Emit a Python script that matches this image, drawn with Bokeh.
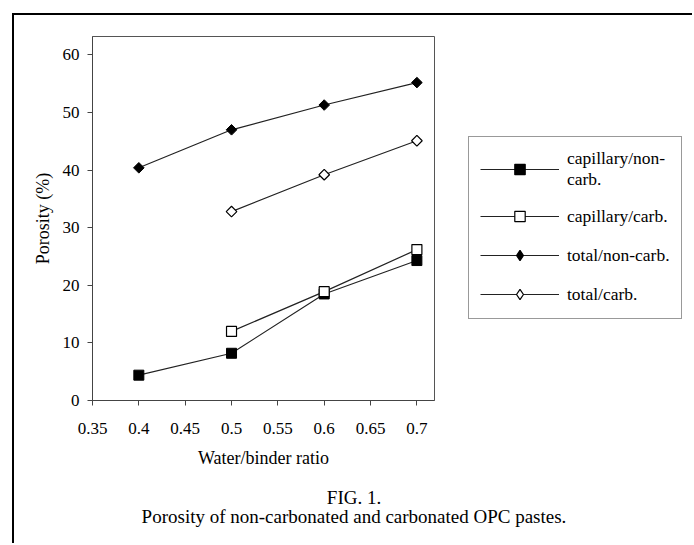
import math

from bokeh.embed import file_html
from bokeh.layouts import column, row
from bokeh.models import (CustomJSTickFormatter, Div, FixedTicker, Legend, LegendItem,
                          Range1d)
from bokeh.plotting import figure
from bokeh.resources import INLINE

# Water/binder ratios of the pastes
wb_noncarb = [0.4, 0.5, 0.6, 0.7]
wb_carb = [0.5, 0.6, 0.7]

# Porosity (%)
capillary_noncarb = [4.4, 8.2, 18.5, 24.3]
capillary_carb = [12.0, 18.9, 26.2]
total_noncarb = [40.4, 47.0, 51.3, 55.2]
total_carb = [32.8, 39.2, 45.1]

x_ticks = [0.35, 0.4, 0.45, 0.5, 0.55, 0.6, 0.65, 0.7]
y_ticks = [0, 10, 20, 30, 40, 50, 60]

series_labels = ["capillary/non-\ncarb.", "capillary/carb.", "total/non-carb.", "total/carb."]
fig_title = "FIG. 1."
fig_caption = "Porosity of non-carbonated and carbonated OPC pastes."

SERIF = "Liberation Serif"
INK = "#222222"

# ---------------- chart ----------------
p = figure(
    width=426, height=470,
    x_range=Range1d(0.35, 0.719), y_range=Range1d(0, 63.2),
    min_border_left=78, min_border_right=6, min_border_top=21, min_border_bottom=85,
    output_backend="svg", toolbar_location=None,
    background_fill_color="white", border_fill_color="white",
)
p.grid.visible = False
p.outline_line_color = "#555555"
p.outline_line_width = 1

for ax in (p.xaxis[0], p.yaxis[0]):
    ax.axis_line_color = "#444444"
    ax.major_tick_line_color = "#444444"
    ax.major_tick_in = 0
    ax.major_tick_out = 5
    ax.minor_tick_line_color = None
    ax.major_label_text_font = SERIF
    ax.major_label_text_font_size = "17px"
    ax.major_label_text_color = "black"
    ax.axis_label_text_font = SERIF
    ax.axis_label_text_font_size = "18px"
    ax.axis_label_text_font_style = "normal"
    ax.axis_label_text_color = "black"

p.xaxis.ticker = FixedTicker(ticks=x_ticks)
p.xaxis.formatter = CustomJSTickFormatter(code="return tick.toString()")
p.xaxis.major_label_standoff = 17
p.xaxis.axis_label = "Water/binder ratio"
p.xaxis.axis_label_standoff = 11

p.yaxis.ticker = FixedTicker(ticks=y_ticks)
p.yaxis.major_label_standoff = 8
p.yaxis.axis_label = "Porosity (%)"
p.yaxis.axis_label_standoff = 7

p.line(wb_noncarb, capillary_noncarb, line_color=INK, line_width=1.2)
p.scatter(wb_noncarb, capillary_noncarb, marker="square", size=10,
          fill_color="black", line_color="black")
p.line(wb_carb, capillary_carb, line_color=INK, line_width=1.2)
p.scatter(wb_carb, capillary_carb, marker="square", size=10,
          fill_color="white", line_color="black", line_width=1.2)
p.line(wb_noncarb, total_noncarb, line_color=INK, line_width=1.2)
p.scatter(wb_noncarb, total_noncarb, marker="square", angle=math.pi / 4, size=7.5,
          fill_color="black", line_color="black")
p.line(wb_carb, total_carb, line_color=INK, line_width=1.2)
p.scatter(wb_carb, total_carb, marker="square", angle=math.pi / 4, size=7.5,
          fill_color="white", line_color="black", line_width=1.2)

# ---------------- key ----------------
k = figure(
    width=254, height=470, x_range=Range1d(0, 1), y_range=Range1d(0, 1),
    x_axis_location=None, y_axis_location=None, min_border=0,
    output_backend="svg", toolbar_location=None, outline_line_color=None,
    background_fill_color="white", border_fill_color="white",
)
k.grid.visible = False

key_styles = [
    ("square", "black"),
    ("square", "white"),
    ("diamond", "black"),
    ("diamond", "white"),
]
items = []
for label, (marker, fill) in zip(series_labels, key_styles):
    ln = k.line([math.nan], [math.nan], line_color=INK, line_width=1.2)
    mk = k.scatter([math.nan], [math.nan], marker=marker, fill_color=fill,
                   line_color="black", line_width=1.2)
    items.append(LegendItem(label=label, renderers=[ln, mk]))

legend = Legend(
    items=items, location=(28, 81), orientation="vertical",
    border_line_color="#333333", border_line_width=1.2,
    background_fill_color="white", background_fill_alpha=1,
    padding=11, margin=0, spacing=13,
    glyph_width=79, glyph_height=26, label_height=26, label_standoff=8,
    label_text_font=SERIF, label_text_font_size="17.5px", label_text_color="black",
)
k.add_layout(legend, "center")

# ---------------- caption ----------------
caption = Div(
    text=(f'<div style="font-family: \'{SERIF}\'; font-size: 19px; line-height: 19px; '
          f'text-align: center; color: black; padding-top: 3px; width: 680px;">'
          f'{fig_title}<br>{fig_caption}</div>'),
    width=680, height=60, margin=0,
)

page = column(
    row(p, k, width=680, height=470, spacing=0),
    caption, width=680, height=530, spacing=0,
    margin=(13, 0, 0, 12),
    styles={"border-left": "2px solid black", "border-top": "2px solid black"},
)

open("out.html", "w").write(file_html(page, INLINE))
